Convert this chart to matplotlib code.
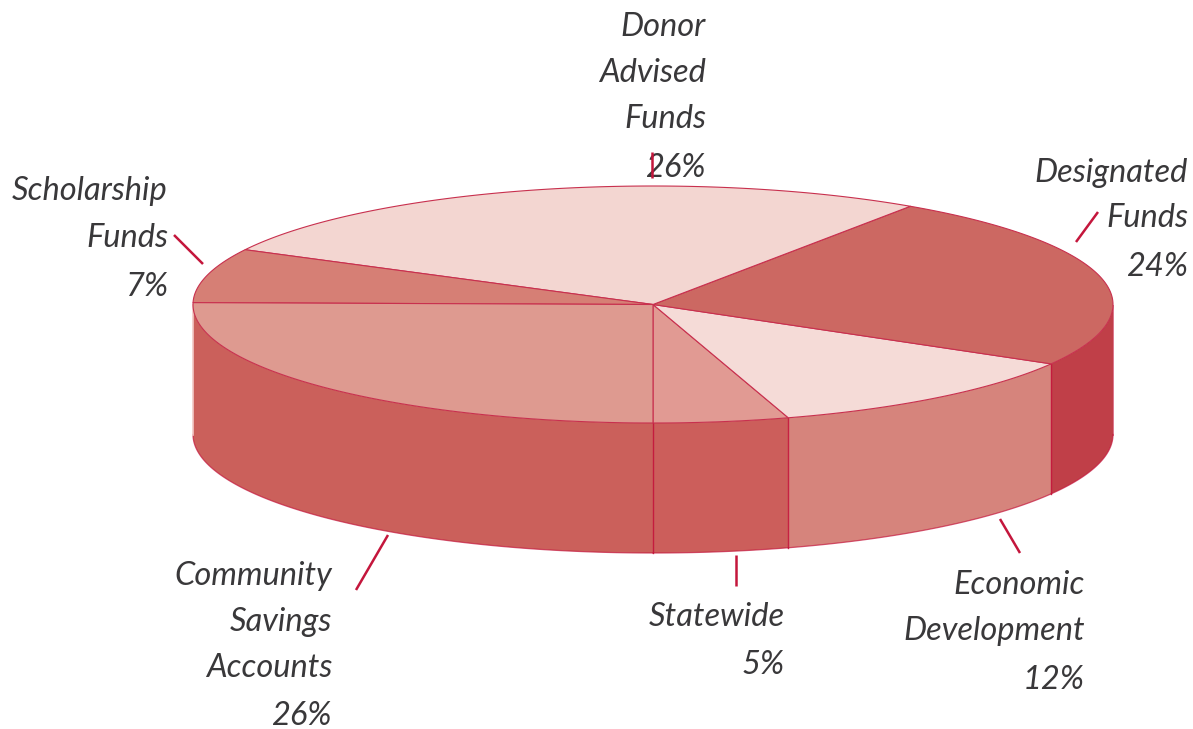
import numpy as np
import matplotlib
matplotlib.use('Agg')
import matplotlib.pyplot as plt
from matplotlib.patches import Polygon

# clockwise from the bottom of the pie
categorias = ['Statewide', 'Economic Development', 'Designated Funds',
              'Donor Advised Funds', 'Scholarship Funds', 'Community Savings Accounts']
fatias = [4.75, 11.9, 23.9, 26.8, 7.4, 25.25]   # share as drawn
cores_topo = ['#E19A93', '#F5DBD7', '#CC6862', '#F3D6D1', '#D67F75', '#DE9A90']
cores_lado = ['#CC5E5B', '#D6847C', '#C03F48', '#C03F48', '#CB605B', '#CB605B']

# label lines, right edge x, baseline y of each line
rotulos = [
    (['Donor', 'Advised', 'Funds', '26%'], 706, [36, 82, 128, 177]),
    (['Designated', 'Funds', '24%'], 1188, [182, 227, 276]),
    (['Scholarship', 'Funds', '7%'], 168, [200, 247, 296]),
    (['Community', 'Savings', 'Accounts', '26%'], 332, [585, 631, 677, 725]),
    (['Statewide', '5%'], 785, [626, 674]),
    (['Economic', 'Development', '12%'], 1085, [594, 640, 689]),
]
guias = [
    ((652, 152), (652, 178)),
    ((174, 235), (203, 264)),
    ((1098, 212), (1076, 242)),
    ((388, 535), (356, 590)),
    ((736, 555), (736, 586)),
    ((1000, 519), (1020, 553)),
]

# ellipse in image pixels
cx, cy = 653, 304.5
rx, ry = 460, 118.5
altura = 130
VERMELHO = '#C4163C'
TEXTO = '#39383A'


def borda(t_ini, t_fim, n=120):
    t = np.radians(np.linspace(t_ini, t_fim, n))
    return np.column_stack([cx + rx * np.sin(t), cy + ry * np.cos(t)])


fig = plt.figure(figsize=(11.93, 7.29), dpi=100)
ax = fig.add_axes([0, 0, 1, 1])
ax.set_xlim(0, 1193)
ax.set_ylim(729, 0)
ax.axis('off')

limites = np.concatenate([[0], np.cumsum(fatias)]) * 3.6

# side walls first, only the front half of the ellipse shows
for i in range(len(fatias)):
    partes = [(max(limites[i], 270), limites[i + 1]), (limites[i], min(limites[i + 1], 90))]
    for ini, fim in partes:
        if fim <= ini:
            continue
        arco = borda(ini, fim)
        parede = np.vstack([arco, (arco + [0, altura])[::-1]])
        ax.add_patch(Polygon(parede, closed=True, facecolor=cores_lado[i], edgecolor='none', zorder=1))
        base = arco + [0, altura]
        ax.plot(base[:, 0], base[:, 1], color=VERMELHO, lw=0.9, alpha=0.7, zorder=2)
        # vertical seam on the inner ends
        for t in (ini, fim):
            if t not in (90, 270):
                p = borda(t, t, 1)[0]
                ax.plot([p[0], p[0]], [p[1], p[1] + altura], color=VERMELHO, lw=0.9, alpha=0.7, zorder=2)

# left and right silhouette of the wall
ax.plot([cx - rx, cx - rx], [cy, cy + altura], color='#F2C9C6', lw=1.2, zorder=2)
ax.plot([cx + rx, cx + rx], [cy, cy + altura], color=VERMELHO, lw=0.7, alpha=0.6, zorder=2)

# top of the pie
for i in range(len(fatias)):
    arco = borda(limites[i], limites[i + 1])
    fatia = np.vstack([[cx, cy], arco])
    ax.add_patch(Polygon(fatia, closed=True, facecolor=cores_topo[i], edgecolor='#C8304E',
                         lw=0.8, joinstyle='round', zorder=3))

# leader lines
for (a, b) in guias:
    ax.plot([a[0], b[0]], [a[1], b[1]], color=VERMELHO, lw=1.8, solid_capstyle='butt', zorder=5)

for linhas, x, ys in rotulos:
    for txt, y in zip(linhas, ys):
        ax.text(x, y, txt, ha='right', va='baseline', family='Lato', style='italic',
                weight='normal', fontsize=23.5, color=TEXTO, zorder=4)

fig.savefig('out.png', dpi=100, facecolor='white')
